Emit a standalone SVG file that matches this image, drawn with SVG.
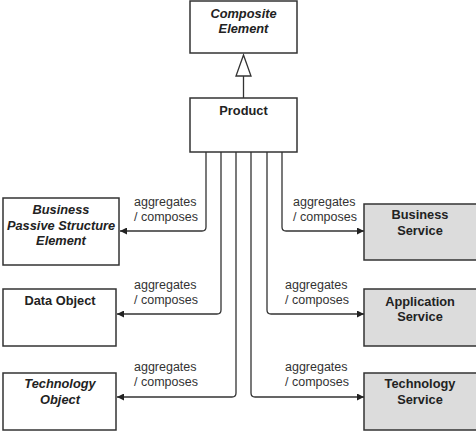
<svg xmlns="http://www.w3.org/2000/svg" width="476" height="436" viewBox="0 0 476 436">
<defs>
<style>
.box{fill:#fff;stroke:#333;stroke-width:1.5}
.svc{fill:#dcdcdc;stroke:#333;stroke-width:1.5}
.t{font-family:"Liberation Sans",Arial,sans-serif;font-size:12.8px;font-weight:bold;fill:#222;text-anchor:middle}
.i{font-style:italic}
.lbl{font-family:"Liberation Sans",Arial,sans-serif;font-size:12.5px;fill:#333}
.c{fill:none;stroke:#333;stroke-width:1.3}
</style>
<marker id="arr" viewBox="0 0 8 8" refX="8" refY="4" markerWidth="7" markerHeight="7" markerUnits="userSpaceOnUse" orient="auto">
<path d="M0,0 L8,4 L0,8 z" fill="#222"/>
</marker>
</defs>
<rect width="476" height="436" fill="#fff"/>
<g id="composite">
<rect class="box" x="190" y="1" width="107" height="52"/>
<text class="t i" x="243.5" y="18">Composite</text>
<text class="t i" x="243.5" y="33">Element</text>
</g>
<g id="product">
<rect class="box" x="190" y="98" width="107" height="54"/>
<text class="t" x="243.5" y="115">Product</text>
</g>
<g id="bpse">
<rect class="box" x="3" y="198" width="116" height="67"/>
<text class="t i" x="61" y="214">Business</text>
<text class="t i" x="61" y="230">Passive Structure</text>
<text class="t i" x="61" y="245">Element</text>
</g>
<g id="dataobject">
<rect class="box" x="3" y="289" width="113" height="57"/>
<text class="t" x="60" y="305">Data Object</text>
</g>
<g id="techobject">
<rect class="box" x="3" y="373" width="113" height="57"/>
<text class="t i" x="60" y="388">Technology</text>
<text class="t i" x="60" y="404">Object</text>
</g>
<g id="bizservice">
<rect class="svc" x="364" y="204" width="116" height="56"/>
<text class="t" x="420" y="219">Business</text>
<text class="t" x="420" y="235">Service</text>
</g>
<g id="appservice">
<rect class="svc" x="364" y="289" width="116" height="57"/>
<text class="t" x="420" y="306">Application</text>
<text class="t" x="420" y="321">Service</text>
</g>
<g id="techservice">
<rect class="svc" x="364" y="373" width="116" height="57"/>
<text class="t" x="420" y="388">Technology</text>
<text class="t" x="420" y="404">Service</text>
</g>
<g id="connectors">
<line class="c" x1="243.5" y1="98" x2="243.5" y2="76"/>
<path d="M236,76 L251,76 L243.5,55 z" fill="#fff" stroke="#333" stroke-width="1.3"/>
<path class="c" marker-end="url(#arr)" d="M206,152 V227 Q206,231 202,231 H120"/>
<path class="c" marker-end="url(#arr)" d="M221,152 V310 Q221,314 217,314 H117"/>
<path class="c" marker-end="url(#arr)" d="M236,152 V393 Q236,397 232,397 H117"/>
<path class="c" marker-end="url(#arr)" d="M282,152 V227 Q282,231 286,231 H364"/>
<path class="c" marker-end="url(#arr)" d="M267,152 V310 Q267,314 271,314 H364"/>
<path class="c" marker-end="url(#arr)" d="M251,152 V393 Q251,397 255,397 H364"/>
<text class="lbl" x="134" y="206">aggregates</text>
<text class="lbl" x="134" y="221">/ composes</text>
<text class="lbl" x="134" y="289">aggregates</text>
<text class="lbl" x="134" y="304">/ composes</text>
<text class="lbl" x="134" y="371">aggregates</text>
<text class="lbl" x="134" y="386">/ composes</text>
<text class="lbl" x="293" y="206">aggregates</text>
<text class="lbl" x="293" y="221">/ composes</text>
<text class="lbl" x="285" y="289">aggregates</text>
<text class="lbl" x="285" y="304">/ composes</text>
<text class="lbl" x="285" y="371">aggregates</text>
<text class="lbl" x="285" y="386">/ composes</text>
</g>
</svg>
